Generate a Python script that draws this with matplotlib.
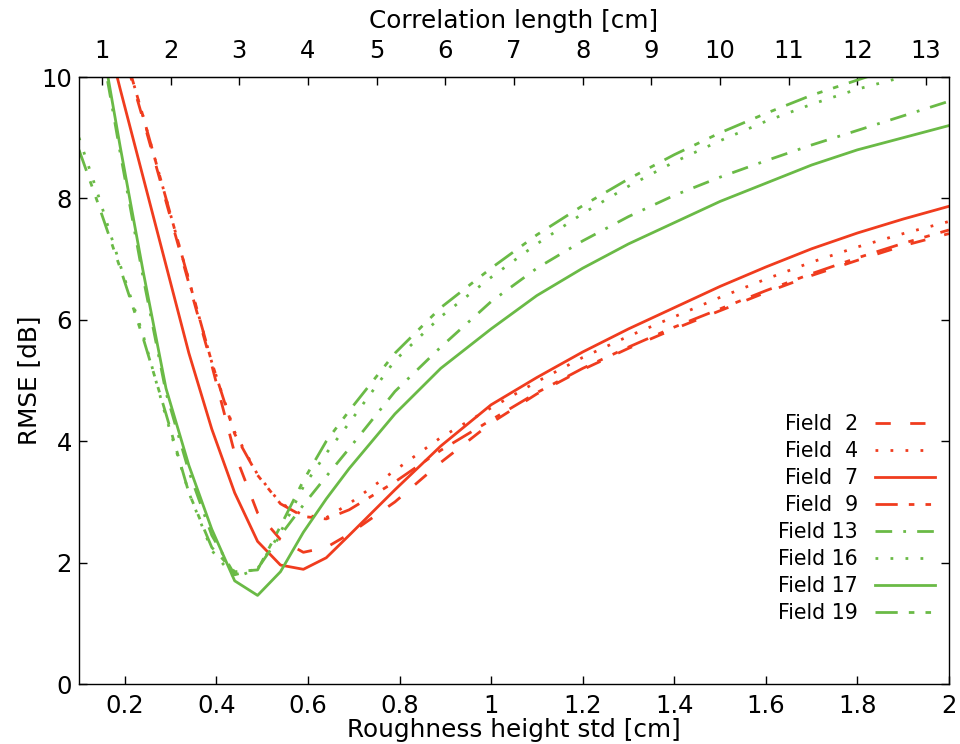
import matplotlib
matplotlib.use("Agg")
import matplotlib.pyplot as plt

# -----------------------
# DATA
# -----------------------
roughness_std = [0.10, 0.14, 0.19, 0.24, 0.29, 0.34, 0.39, 0.44, 0.49, 0.54, 0.59, 0.64, 0.69,
                 0.79, 0.89, 1.0, 1.1, 1.2, 1.3, 1.4, 1.5, 1.6, 1.7, 1.8, 1.9, 2.0]

field_2 = [13.0, 11.9, 10.6, 9.3, 7.95, 6.6, 5.25, 3.8, 2.82, 2.38, 2.17, 2.25, 2.47,
           3.0, 3.65, 4.3, 4.78, 5.18, 5.53, 5.85, 6.15, 6.45, 6.73, 6.98, 7.22, 7.42]
field_4 = [13.0, 11.95, 10.65, 9.35, 8.0, 6.65, 5.3, 4.15, 3.45, 2.98, 2.78, 2.74, 2.97,
           3.52, 4.06, 4.55, 4.98, 5.38, 5.73, 6.05, 6.37, 6.67, 6.95, 7.2, 7.42, 7.62]
field_7 = [12.5, 11.3, 9.8, 8.35, 6.9, 5.45, 4.2, 3.15, 2.35, 1.96, 1.89, 2.08, 2.45,
           3.2, 3.92, 4.6, 5.05, 5.47, 5.85, 6.2, 6.55, 6.87, 7.17, 7.43, 7.66, 7.87]
field_9 = [13.05, 11.95, 10.65, 9.35, 8.0, 6.65, 5.3, 4.12, 3.44, 2.97, 2.76, 2.72, 2.87,
           3.33, 3.85, 4.35, 4.8, 5.2, 5.55, 5.88, 6.18, 6.48, 6.76, 7.02, 7.26, 7.48]
field_13 = [12.8, 10.9, 8.75, 6.7, 4.8, 3.5, 2.45, 1.8, 1.9, 2.45, 2.95, 3.42, 3.88,
            4.82, 5.55, 6.3, 6.85, 7.3, 7.7, 8.05, 8.35, 8.62, 8.88, 9.12, 9.36, 9.6]
field_16 = [9.0, 8.1, 6.9, 5.75, 4.4, 3.15, 2.2, 1.75, 1.9, 2.5, 3.25, 3.8, 4.3,
            5.33, 6.05, 6.7, 7.25, 7.75, 8.2, 8.6, 8.95, 9.27, 9.55, 9.8, 10.0, 10.2]
field_17 = [12.9, 11.0, 8.85, 6.8, 4.87, 3.6, 2.55, 1.7, 1.46, 1.85, 2.5, 3.05, 3.55,
            4.45, 5.2, 5.85, 6.4, 6.85, 7.25, 7.6, 7.95, 8.25, 8.55, 8.8, 9.0, 9.2]
field_19 = [8.8, 7.95, 6.85, 5.7, 4.45, 3.15, 2.25, 1.85, 1.88, 2.6, 3.35, 4.0, 4.5,
            5.45, 6.2, 6.85, 7.4, 7.88, 8.32, 8.72, 9.08, 9.4, 9.7, 9.95, 10.2, 10.4]

labels = ["Field  2", "Field  4", "Field  7", "Field  9",
          "Field 13", "Field 16", "Field 17", "Field 19"]
series = [field_2, field_4, field_7, field_9, field_13, field_16, field_17, field_19]

corr_ticks = list(range(1, 14))
ratio = 0.15  # roughness std / correlation length

# -----------------------
# STYLE
# -----------------------
red = "#f03c1e"
green = "#6aba46"
dashed = (0, (5.5, 7))
dotted = (0, (1, 4.4))
dashdotdot = (0, (8, 4, 2, 4, 2, 4))
dashdot = (0, (6, 4, 1, 4))
styles = [
    (red, dashed), (red, dotted), (red, "-"), (red, dashdotdot),
    (green, dashdot), (green, dotted), (green, "-"), (green, dashdotdot),
]

plt.rcParams["font.family"] = "DejaVu Sans"

fig = plt.figure(figsize=(9.6, 7.44), dpi=100)
ax = fig.add_axes([0.0823, 0.0806, 0.9062, 0.8159])

for y, lab, (col, ls) in zip(series, labels, styles):
    ax.plot(roughness_std, y, color=col, linestyle=ls, lw=2.0,
            dash_capstyle="butt", label=lab)

ax.set_xlim(0.1, 2.0)
ax.set_ylim(0, 10)
ax.set_xticks([0.2, 0.4, 0.6, 0.8, 1.0, 1.2, 1.4, 1.6, 1.8, 2.0])
ax.set_xticklabels(["0.2", "0.4", "0.6", "0.8", "1", "1.2", "1.4", "1.6", "1.8", "2"])
ax.set_yticks([0, 2, 4, 6, 8, 10])
ax.tick_params(direction="in", length=6, width=1, labelsize=17.5,
               top=False, right=True, pad=7)
ax.tick_params(axis="y", pad=5)
ax.set_xlabel("Roughness height std [cm]", fontsize=17.8, labelpad=0)
ax.set_ylabel("RMSE [dB]", fontsize=17.8, labelpad=0)

# top axis: correlation length
sec = ax.secondary_xaxis("top", functions=(lambda s: s / ratio, lambda l: l * ratio))
sec.set_xticks(corr_ticks)
sec.tick_params(direction="in", length=6, width=1, labelsize=17.5, pad=10)
sec.set_xlabel("Correlation length [cm]", fontsize=17.8, labelpad=8)

for sp in ax.spines.values():
    sp.set_linewidth(1.0)

ax.legend(loc="lower right", bbox_to_anchor=(0.984, 0.1), frameon=False,
          fontsize=14.8, markerfirst=False, handlelength=2.9,
          handletextpad=0.85, labelspacing=0.34, borderpad=0, borderaxespad=0)

plt.savefig("out.png", dpi=100)
